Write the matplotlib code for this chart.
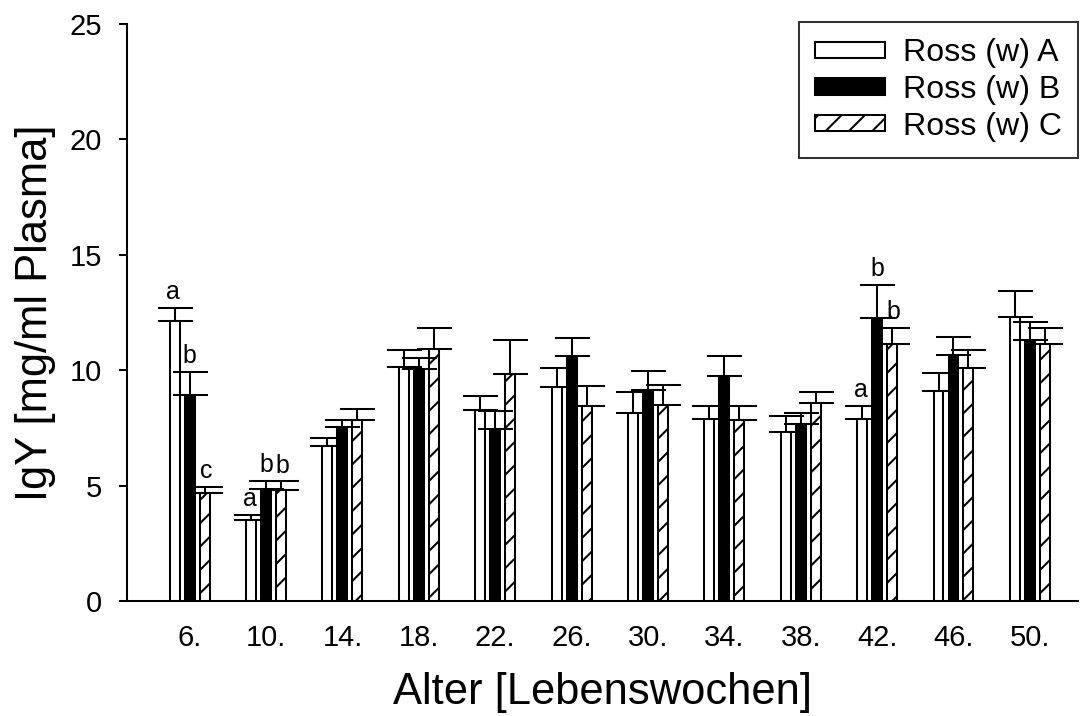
import matplotlib
matplotlib.use("Agg")
import matplotlib.pyplot as plt
import numpy as np

# dpi 140 so that the "//" hatch comes out as sparse as in the reference
DPI = 140
W_PX, H_PX = 1082, 716

plt.rcParams["font.family"] = ["Liberation Sans", "DejaVu Sans"]
plt.rcParams["hatch.linewidth"] = 1.05

# ---- data ----
weeks = ["6.", "10.", "14.", "18.", "22.", "26.", "30.", "34.", "38.", "42.", "46.", "50."]
series = ["Ross (w) A", "Ross (w) B", "Ross (w) C"]

mean_a = [12.15, 3.53, 6.70, 10.12, 8.28, 9.27, 8.15, 7.87, 7.32, 7.90, 9.10, 12.30]
mean_b = [8.94, 4.84, 7.53, 10.05, 7.47, 10.63, 9.16, 9.75, 7.67, 12.28, 10.65, 11.30]
mean_c = [4.67, 4.82, 7.84, 10.91, 9.85, 8.45, 8.49, 7.86, 8.59, 11.12, 10.08, 11.12]

err_a = [0.55, 0.19, 0.37, 0.74, 0.62, 0.82, 0.90, 0.59, 0.70, 0.56, 0.80, 1.14]
err_b = [0.99, 0.38, 0.30, 0.47, 0.76, 0.77, 0.79, 0.88, 0.49, 1.42, 0.81, 0.79]
err_c = [0.29, 0.36, 0.46, 0.91, 1.45, 0.86, 0.85, 0.57, 0.48, 0.72, 0.78, 0.73]

# significance letters: (group index, series index, letter)
letters = [(0, 0, "a"), (0, 1, "b"), (0, 2, "c"),
           (1, 0, "a"), (1, 1, "b"), (1, 2, "b"),
           (9, 0, "a"), (9, 1, "b"), (9, 2, "b")]

means = [mean_a, mean_b, mean_c]
errs = [err_a, err_b, err_c]
faces = ["white", "black", "white"]
hatches = [None, None, "//"]

fig = plt.figure(figsize=(W_PX / DPI, H_PX / DPI), dpi=DPI)
ax = fig.add_axes([127 / W_PX, 115 / H_PX, 951 / W_PX, 577 / H_PX])

x = np.arange(len(weeks))
off = 0.196
width = 0.13
for k in range(3):
    ax.bar(x + (k - 1) * off, means[k], width, color=faces[k],
           edgecolor="black", linewidth=1.05, hatch=hatches[k],
           label=series[k], zorder=2)
    ax.errorbar(x + (k - 1) * off, means[k], yerr=[np.zeros(len(weeks)), errs[k]],
                fmt="none", ecolor="black", elinewidth=1.05, capsize=9,
                capthick=1.05, zorder=3)

for g, k, s in letters:
    ax.annotate(s, (x[g] + (k - 1) * off, means[k][g] + errs[k][g]),
                xytext=((k - 1) * 0.8, 2), textcoords="offset points",
                ha="center", va="bottom", fontsize=12.8)

ax.set_xlim(-0.82, 11.63)
ax.set_ylim(0, 25)
ax.set_yticks([0, 5, 10, 15, 20, 25])
ax.set_xticks(x)
ax.set_xticklabels(weeks)
ax.tick_params(axis="x", length=0, pad=12, labelsize=15)
ax.tick_params(axis="y", length=4.2, width=1.05, direction="out", pad=8.5, labelsize=15)
for sp in ["top", "right"]:
    ax.spines[sp].set_visible(False)
for sp in ["left", "bottom"]:
    ax.spines[sp].set_linewidth(1.05)

ax.set_xlabel("Alter [Lebenswochen]", fontsize=22.4, labelpad=10)
ax.set_ylabel("IgY [mg/ml Plasma]", fontsize=22.4, labelpad=7)

leg = ax.legend(loc="upper right", bbox_to_anchor=(1.0, 1.003), fontsize=16.5,
                frameon=True, fancybox=False, edgecolor="black",
                handlelength=2.18, handleheight=0.4, borderpad=0.5,
                labelspacing=0.21, handletextpad=0.55, borderaxespad=0.0)
leg.get_frame().set_linewidth(1.05)

fig.savefig("out.png", dpi=DPI)
